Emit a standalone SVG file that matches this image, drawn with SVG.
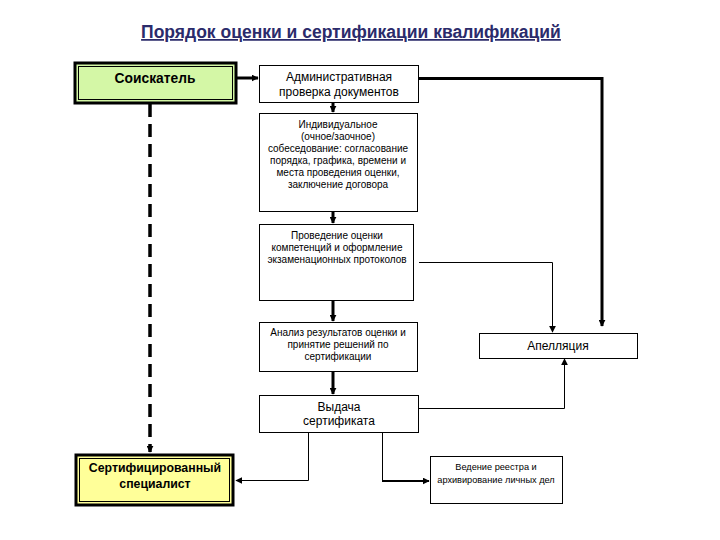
<svg xmlns="http://www.w3.org/2000/svg" width="720" height="540" viewBox="0 0 720 540">
<defs>
<style>
.t{font-family:"Liberation Sans",Arial,sans-serif;fill:#000;text-anchor:middle}
.s12{font-size:12px}
.s10{font-size:10px}
.b{font-weight:bold}
.box{fill:#fff;stroke:#000;stroke-width:1}
.thin{fill:none;stroke:#000;stroke-width:1}
.thick{fill:none;stroke:#000;stroke-width:3}
</style>
<marker id="ah" viewBox="0 0 10 10" refX="9" refY="5" markerWidth="7" markerHeight="7" markerUnits="userSpaceOnUse" orient="auto"><path d="M0,0 L10,5 L0,10 z" fill="#000"/></marker>
</defs>
<rect width="720" height="540" fill="#fff"/>
<text x="351" y="38" style="font-family:'Liberation Sans',Arial,sans-serif;font-size:17.5px;font-weight:bold;fill:#2b2b6b;text-anchor:middle;text-decoration:underline">Порядок оценки и сертификации квалификаций</text>

<g id="connectors">
<line class="thick" x1="236" y1="78" x2="258" y2="78" marker-end="url(#ah)"/>
<line class="thick" x1="333" y1="102" x2="333" y2="112" marker-end="url(#ah)"/>
<line class="thick" x1="333" y1="211" x2="333" y2="223" marker-end="url(#ah)"/>
<line class="thick" x1="333" y1="300" x2="333" y2="321" marker-end="url(#ah)"/>
<line class="thick" x1="333" y1="371" x2="333" y2="394" marker-end="url(#ah)"/>
<polyline class="thin" points="419,78.5 602,78.5 602,326" style="stroke-width:3" marker-end="url(#ah)"/>
<polyline class="thin" points="419,262.5 552.5,262.5 552.5,332" marker-end="url(#ah)"/>
<polyline class="thin" points="419,408.5 564.5,408.5 564.5,359" marker-end="url(#ah)"/>
<polyline class="thin" points="308.5,432 308.5,480.5 236,480.5" marker-end="url(#ah)"/>
<polyline class="thin" points="382.5,432 382.5,481"/>
<line x1="382" y1="481" x2="429" y2="481" stroke="#000" stroke-width="2" marker-end="url(#ah)"/>
<line x1="150" y1="104" x2="150" y2="452" stroke="#000" stroke-width="3.5" stroke-dasharray="13,7" marker-end="url(#ah)"/>
</g>

<g id="soiskatel">
<rect x="75" y="63" width="161" height="40" fill="#d4f7a6" stroke="#000" stroke-width="3"/>
<rect x="78.5" y="66.5" width="154" height="33" fill="none" stroke="#000" stroke-width="1"/>
<text class="t b" x="155" y="83" style="font-size:13.8px">Соискатель</text>
</g>

<g id="admin">
<rect class="box" x="259.5" y="65.5" width="159" height="37"/>
<text class="t s12" x="339" y="81">Административная</text>
<text class="t s12" x="339" y="96">проверка документов</text>
</g>

<g id="individ">
<rect class="box" x="259.5" y="113.5" width="158" height="98"/>
<text class="t s10" x="338" y="128">Индивидуальное</text>
<text class="t s10" x="338" y="140">(очное/заочное)</text>
<text class="t s10" x="338" y="152">собеседование: согласование</text>
<text class="t s10" x="338" y="164">порядка, графика, времени и</text>
<text class="t s10" x="338" y="176">места проведения оценки,</text>
<text class="t s10" x="338" y="188">заключение договора</text>
</g>

<g id="provedenie">
<rect class="box" x="259.5" y="224.5" width="154" height="76"/>
<text class="t s10" x="337" y="239">Проведение оценки</text>
<text class="t s10" x="337" y="251">компетенций и оформление</text>
<text class="t s10" x="337" y="263">экзаменационных протоколов</text>
</g>

<g id="analiz">
<rect class="box" x="259.5" y="322.5" width="158" height="49"/>
<text class="t s10" x="338" y="336">Анализ результатов оценки и</text>
<text class="t s10" x="338" y="348">принятие решений по</text>
<text class="t s10" x="338" y="360">сертификации</text>
</g>

<g id="apellyaciya">
<rect class="box" x="479.5" y="333.5" width="158" height="25"/>
<text class="t s12" x="558" y="350">Апелляция</text>
</g>

<g id="vydacha">
<rect class="box" x="259.5" y="395.5" width="159" height="37"/>
<text class="t s12" x="339" y="411">Выдача</text>
<text class="t s12" x="339" y="425">сертификата</text>
</g>

<g id="sertificirovanny">
<rect x="76" y="455" width="157" height="50" fill="#ffff99" stroke="#000" stroke-width="3"/>
<rect x="79.5" y="458.5" width="150" height="43" fill="none" stroke="#000" stroke-width="1"/>
<text class="t b" x="155" y="472" style="font-size:12.3px">Сертифицированный</text>
<text class="t b" x="155" y="488" style="font-size:12.3px">специалист</text>
</g>

<g id="vedenie">
<rect class="box" x="430.5" y="456.5" width="132" height="47"/>
<text class="t" x="496" y="470" style="font-size:9.2px">Ведение реестра и</text>
<text class="t" x="496" y="483" style="font-size:9.2px">архивирование личных дел</text>
</g>
</svg>
